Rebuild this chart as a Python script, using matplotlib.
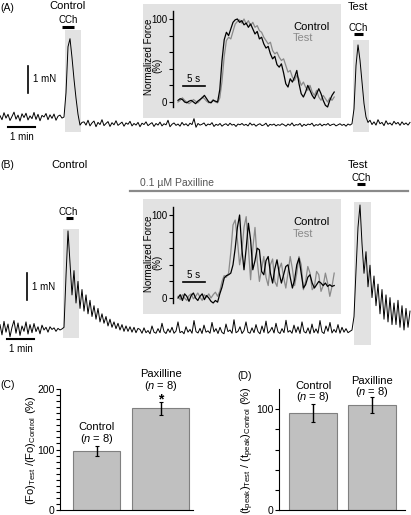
import numpy as np
import matplotlib
matplotlib.use('Agg')
import matplotlib.pyplot as plt
from matplotlib.patches import Rectangle
from matplotlib.ticker import FixedFormatter, FixedLocator

plt.rcParams['font.family'] = ['Liberation Sans', 'DejaVu Sans']
plt.rcParams['mathtext.fontset'] = 'custom'
plt.rcParams['mathtext.rm'] = 'Liberation Sans'
plt.rcParams['mathtext.it'] = 'Liberation Sans:italic'

W, H = 411, 515

# ---- data ----
# main force traces (mN), one sample every 2/27 min
trace_a = [0.05, -0.1, 0.16, -0.04, 0.1, -0.13, 0.02, 0.18, -0.08, 0.07, -0.15, 0.12, -0.02, 0.14, -0.11, 0.04,
           -0.06, 0.17, -0.09, 0.1, -0.14, 0.06, 0.0, 0.13, -0.1, 0.08, -0.05, 0.11, -0.12, 0.03, 0.07, -0.04,
           0.0, 0.9, 2.6, 2.9, 2.2, 1.4, 0.7, 0.1, -0.3, -0.2,
           -0.18, -0.3, -0.12, -0.33, -0.22, -0.15, -0.36, -0.2, -0.28, -0.1, -0.32, -0.24, -0.17, -0.35, -0.21, -0.29,
           -0.14, -0.31, -0.25, -0.19,
           -0.34, -0.22, -0.27, -0.16, -0.33, -0.24, -0.3, -0.2, -0.36, -0.23, -0.28, -0.18, -0.32, -0.26, -0.21, -0.35,
           -0.24, -0.3, -0.19, -0.33,
           -0.25, -0.29, -0.12, -0.36, -0.27, -0.22, -0.31, -0.26, -0.34, -0.2, -0.3, -0.25, -0.33, -0.23, -0.28, -0.06,
           -0.38, -0.24, -0.3, -0.27,
           -0.22, -0.33, -0.26, -0.29, -0.21, -0.35, -0.27, -0.31, -0.24, -0.34, -0.28, -0.25, -0.32, -0.23, -0.3, -0.27,
           -0.35, -0.26, -0.29, -0.24,
           -0.31, -0.27, -0.33, -0.22, -0.3, -0.26, -0.34, -0.28, -0.25, -0.32, -0.29, -0.23, -0.35, -0.27, -0.3, -0.26,
           -0.33, -0.28, -0.31, -0.25,
           -0.29, -0.34, -0.26, -0.31, -0.22, -0.33, -0.28, -0.3, -0.24, -0.35, -0.27, -0.32, -0.26, -0.29, -0.23, -0.34,
           -0.28, -0.31, -0.25, -0.33,
           -0.27, -0.3, -0.24, -0.32, -0.28, -0.26, -0.33, -0.29, -0.25, -0.31, -0.27, -0.34, -0.26, -0.3,
           -0.25, 0.3, 1.9, 2.67, 2.1, 1.3, 0.5, 0.0, -0.2,
           -0.12, -0.28, -0.18, -0.3, -0.1, -0.25, -0.2, -0.32, -0.14, -0.27, -0.22, -0.3, -0.16, -0.26, -0.2, -0.31,
           -0.18, -0.28, -0.22, -0.3, -0.2]
trace_b = [0.2, -0.18, 0.32, -0.08, 0.22, -0.25, 0.1, 0.35, -0.12, 0.26, -0.2, 0.15, -0.05, 0.3, -0.15, 0.2,
           -0.1, 0.24, -0.06, 0.12, -0.14, 0.18, 0.0, 0.1, -0.08, 0.12, 0.02, 0.08, -0.05, 0.06, 0.0, 0.04,
           0.1, 2.0, 3.67, 2.5, 1.3, 2.2, 1.0, 1.8, 0.8, 1.5, 0.7, 1.3, 0.6, 1.1, 0.5, 0.9, 0.4, 0.8, 0.3, 0.6,
           0.25, 0.5, 0.15, 0.4, 0.1, 0.3, 0.05, 0.25, 0.0, 0.2, -0.05, 0.15, -0.05, 0.12, -0.08, 0.1, -0.1, 0.06,
           0.02, -0.12, 0.08, -0.1, -0.02, -0.14, 0.15, -0.08, -0.12, 0.05, -0.1, 0.25, -0.06, -0.13, 0.04, -0.09,
           0.1, -0.12, -0.04, 0.3,
           -0.1, -0.05, -0.14, 0.12, -0.08, 0.02, -0.12, 0.35, -0.06, -0.11, 0.06, -0.13, 0.18, -0.08, -0.03, -0.12,
           0.28, -0.07, 0.05, -0.13,
           0.1, -0.09, -0.14, 0.22, -0.06, 0.0, -0.12, 0.38, -0.1, -0.05, 0.12, -0.13, -0.02, 0.3, -0.08, -0.12,
           0.08, -0.1, 0.2, -0.06,
           -0.14, 0.15, -0.09, 0.33, -0.12, -0.04, 0.1, -0.11, 0.25, -0.07, -0.13, 0.05, -0.1, 0.36, -0.08, -0.02,
           -0.12, 0.18, -0.09, 0.12,
           -0.13, 0.3, -0.06, -0.11, 0.08, -0.14, 0.22, -0.1, 0.04, -0.12, 0.35, -0.07, -0.13, 0.15, -0.05, 0.28,
           -0.11, 0.02, -0.09, 0.2,
           -0.12, 0.1, -0.08, 0.05, -0.1,
           -0.05, 0.0, 0.5, 2.2, 3.8, 4.63, 3.2, 2.1, 2.9, 1.6, 2.4, 1.2, 2.0, 0.9, 1.7, 0.6, 1.5, 0.4, 1.3, 0.3,
           1.2, 0.2, 1.0, 0.2, 1.1, 0.1, 0.9, 0.0, 0.8, 0.1, 0.7]
dt_main = 2 / 27  # min

# inset traces, normalized force (%), one sample every 0.5 s
ins_a_ctrl = [2, 4, 3, 0, -1, 1, 2, 0, -2, 1, 3, 5, 8, 4, 0, -1, 2, 1, 0,
              15, 50, 75, 84, 80, 88, 96, 99, 100, 96, 98, 93, 95, 90, 94, 88, 82, 85, 76, 78, 70, 65, 67, 58,
              52, 55, 45, 42, 46, 35, 22, 18, 28, 24, 30, 38, 22, 10, 6, 12, 20, 14, 8, 4, 10, 16, 10, 2, -4,
              -6, 2, 8, 12]
ins_a_test = [0, 2, 5, 2, 0, -2, 0, 3, 1, -1, 2, 6, 4, 1, -1, 0, 3, 0, -1,
              5, 25, 55, 74, 78, 76, 85, 94, 97, 99, 95, 100, 94, 98, 92, 96, 90, 92, 86, 84, 78, 74, 70, 72,
              62, 58, 60, 54, 50, 52, 44, 36, 38, 30, 26, 32, 28, 20, 24, 18, 14, 20, 12, 8, 14, 6, 2, 8, 4,
              0, 5, 2, 6]
ins_b_ctrl = [0, 4, -3, 5, 2, -4, 3, 6, 0, -3, 2, 5, -2, 3, 0, -4, -6, -3, -5,
              5, 13, 24, 27, 28, 30, 40, 60, 85, 100, 60, 34, 60, 90, 70, 34, 45, 60, 58, 32, 28, 45, 50, 30,
              18, 35, 46, 30, 18, 28, 38, 40, 25, 12, 22, 40, 48, 30, 12, 16, 25, 28, 18, 12, 16, 20, 18, 15,
              18, 14, 16, 14, 15]
ins_b_test = [2, -2, 4, 0, -3, 3, 5, -1, 2, 6, 1, -3, 4, 1, 5, 0, 4, 7, 2,
              8, 20, 27, 25, 30, 55, 88, 94, 70, 40, 55, 85, 98, 60, 22, 60, 85, 45, 20, 35, 50, 25, 15, 40,
              47, 20, 14, 35, 42, 25, 12, 30, 50, 35, 15, 30, 50, 40, 10, 20, 38, 30, 10, 14, 32, 28, 8, 15,
              30, 18, 2, 14, 30]
dt_ins = 0.5  # s

# summary bars (%)
groups = ['Control', 'Paxilline']
n_cells = [8, 8]
fo_mean = [98, 168]
fo_err = [8, 11]
tpeak_mean = [96, 104]
tpeak_err = [9, 8]

# ---- helpers ----
fig = plt.figure(figsize=(W / 100, H / 100), dpi=100)


def box(x0, y0, x1, y1):
    return [x0 / W, 1 - y1 / H, (x1 - x0) / W, (y1 - y0) / H]


def ftext(x, y, s, ha='center', **kw):
    fig.text(x / W, 1 - y / H, s, ha=ha, va='center', **kw)


SHADE = '#e2e2e2'
GRAY = '#8a8a8a'
PX = 27.0  # px per min and px per mN


def main_panel(y0, y1, y_base, trace, shades, cch, vbar, hbar):
    ax = fig.add_axes(box(0, y0, 411, y1))
    ax.axis('off')
    ax.set_xlim(0, 411 / PX)
    ax.set_ylim((y_base - y1) / PX, (y_base - y0) / PX)
    t = np.arange(len(trace)) * dt_main
    for (ta, tb, fa, fb) in shades:
        ax.add_patch(Rectangle((ta, fa), tb - ta, fb - fa, fc=SHADE, ec='none', zorder=0))
    for (ta, tb, f) in cch:
        ax.plot([ta, tb], [f, f], color='black', lw=2.2, solid_capstyle='butt')
    ax.plot(t, trace, color='black', lw=0.7, zorder=2)
    # scale bars 1 mN, 1 min
    ax.plot([vbar[0], vbar[0]], [vbar[1], vbar[1] + 1], color='black', lw=1.2)
    ax.text(vbar[0] + 0.17, vbar[1] + 0.5, '1 mN', fontsize=7, va='center')
    ax.plot([hbar[0], hbar[0] + 1], [hbar[1], hbar[1]], color='black', lw=1.5)
    ax.text(hbar[0] + 0.5, hbar[1] - 0.36, '1 min', fontsize=7, ha='center', va='center')
    return ax


def inset(y0, y1, y100, y0px, ctrl, test, label_y):
    ax = fig.add_axes(box(143, y0, 341, y1))
    ax.set_facecolor(SHADE)
    sc = (y0px - y100) / 100.0
    ax.set_xlim(-35 / 4.4, 163 / 4.4)
    ax.set_ylim((y0px - y1) / sc, (y0px - y0) / sc)
    for s in ['top', 'right', 'bottom']:
        ax.spines[s].set_visible(False)
    ax.spines['left'].set_position(('data', -1.14))
    ax.spines['left'].set_bounds(-6, 110)
    ax.spines['left'].set_linewidth(1.0)
    ax.set_xticks([])
    ax.yaxis.set_major_locator(FixedLocator([0, 20, 40, 60, 80, 100]))
    ax.yaxis.set_major_formatter(FixedFormatter(['0', '', '', '', '', '100']))
    ax.tick_params(axis='y', direction='out', length=3, width=0.8, labelsize=7, pad=1)
    t = np.arange(len(ctrl)) * dt_ins
    ax.plot(t, test, color=GRAY, lw=0.9)
    ax.plot(t, ctrl, color='black', lw=0.9)
    ftext(148.5, label_y, 'Normalized Force', fontsize=7, rotation=90)
    ftext(157, label_y + 8, '(%)', fontsize=7, rotation=90)
    ybar = 16 / sc
    ax.plot([1.14, 6.14], [ybar, ybar], color='black', lw=1.2)
    ax.text(3.64, ybar + 8, '5 s', fontsize=7, ha='center', va='center')
    return ax


# ---- panel A ----
main_panel(0, 140, 117, trace_a,
           shades=[(65 / PX, 81 / PX, -15 / PX, 87 / PX), (353 / PX, 369 / PX, -15 / PX, 77 / PX)],
           cch=[(62 / PX, 74 / PX, 90 / PX), (354 / PX, 363 / PX, 83 / PX)],
           vbar=(28 / PX, 24 / PX), hbar=(8 / PX, -10 / PX))
ftext(0, 8, '(A)', ha='left', fontsize=7.5)
ftext(68, 6, 'Control', fontsize=8)
ftext(68, 20, 'CCh', fontsize=7)
ftext(358, 7, 'Test', fontsize=8)
ftext(358, 28, 'CCh', fontsize=7)
inset(4, 118, 19, 102, ins_a_ctrl, ins_a_test, 57)
ftext(293, 27, 'Control', ha='left', fontsize=8)
ftext(293, 38, 'Test', ha='left', fontsize=8, color=GRAY)

# ---- panel B ----
axB = main_panel(140, 360, 330, trace_b,
                 shades=[(63 / PX, 79 / PX, -8 / PX, 101 / PX), (354 / PX, 371 / PX, -15 / PX, 128 / PX)],
                 cch=[(66 / PX, 73 / PX, 112 / PX), (357 / PX, 365 / PX, 146 / PX)],
                 vbar=(27 / PX, 30 / PX), hbar=(7 / PX, -9 / PX))
axB.plot([130 / PX, 408 / PX], [139 / PX, 139 / PX], color=GRAY, lw=1.6)
ftext(0, 165, '(B)', ha='left', fontsize=7.5)
ftext(70, 165, 'Control', fontsize=8)
ftext(140, 183, '0.1 \u00b5M Paxilline', ha='left', fontsize=7.5, color='#555555')
ftext(358, 165, 'Test', fontsize=8)
ftext(361, 178, 'CCh', fontsize=7)
ftext(68, 212, 'CCh', fontsize=7)
inset(199, 314, 215, 298, ins_b_ctrl, ins_b_test, 254)
ftext(293, 222, 'Control', ha='left', fontsize=8)
ftext(293, 234, 'Test', ha='left', fontsize=8, color=GRAY)


# ---- panels C and D ----
def bar_panel(x0, x1, top, mean, err, pos, widths, major, labeled):
    ax = fig.add_axes(box(x0, 389, x1, 510))
    ax.set_xlim(0, x1 - x0)
    ax.set_ylim(0, top)
    ax.spines['top'].set_visible(False)
    ax.spines['right'].set_visible(False)
    ax.set_xticks([])
    ax.bar(pos, mean, width=widths, color='#c0c0c0', edgecolor='#808080', lw=0.8,
           yerr=err, error_kw=dict(ecolor='black', elinewidth=1.0, capsize=1.2, capthick=0.8))
    ticks = list(range(0, labeled[-1] + 1, major))
    ax.yaxis.set_major_locator(FixedLocator(ticks))
    ax.yaxis.set_major_formatter(FixedFormatter([str(v) if v in labeled else '' for v in ticks]))
    ax.tick_params(axis='y', direction='out', length=3, width=0.8, labelsize=7.5, pad=1)
    return ax


axC = bar_panel(60, 193, 200, fo_mean, fo_err, [36.5, 100.5], [47, 57], 10, [0, 100, 200])
ftext(0, 385, '(C)', ha='left', fontsize=7.5)
ftext(96.5, 427, groups[0], fontsize=8)
ftext(96.5, 439, r'($\it{n}$ = %d)' % n_cells[0], fontsize=8)
ftext(160.5, 374, groups[1], fontsize=8)
ftext(160.5, 386, r'($\it{n}$ = %d)' % n_cells[1], fontsize=8)
ftext(160.5, 399, '*', fontsize=10, fontweight='bold')
ftext(31, 450, r'(Fo)$_{\mathrm{Test}}$ /(Fo)$_{\mathrm{Control}}$ (%)', fontsize=8, rotation=90)

axD = bar_panel(279, 405, 120, tpeak_mean, tpeak_err, [34, 93], [48, 48], 20, [0, 100])
ftext(237, 376, '(D)', ha='left', fontsize=7.5)
ftext(313, 386, groups[0], fontsize=8)
ftext(313, 397, r'($\it{n}$ = %d)' % n_cells[0], fontsize=8)
ftext(372, 381, groups[1], fontsize=8)
ftext(372, 392, r'($\it{n}$ = %d)' % n_cells[1], fontsize=8)
ftext(248, 450, r'(t$_{\mathrm{peak}}$)$_{\mathrm{Test}}$ / (t$_{\mathrm{peak}}$)$_{\mathrm{Control}}$ (%)',
      fontsize=8, rotation=90)

fig.savefig('out.png', dpi=100)
